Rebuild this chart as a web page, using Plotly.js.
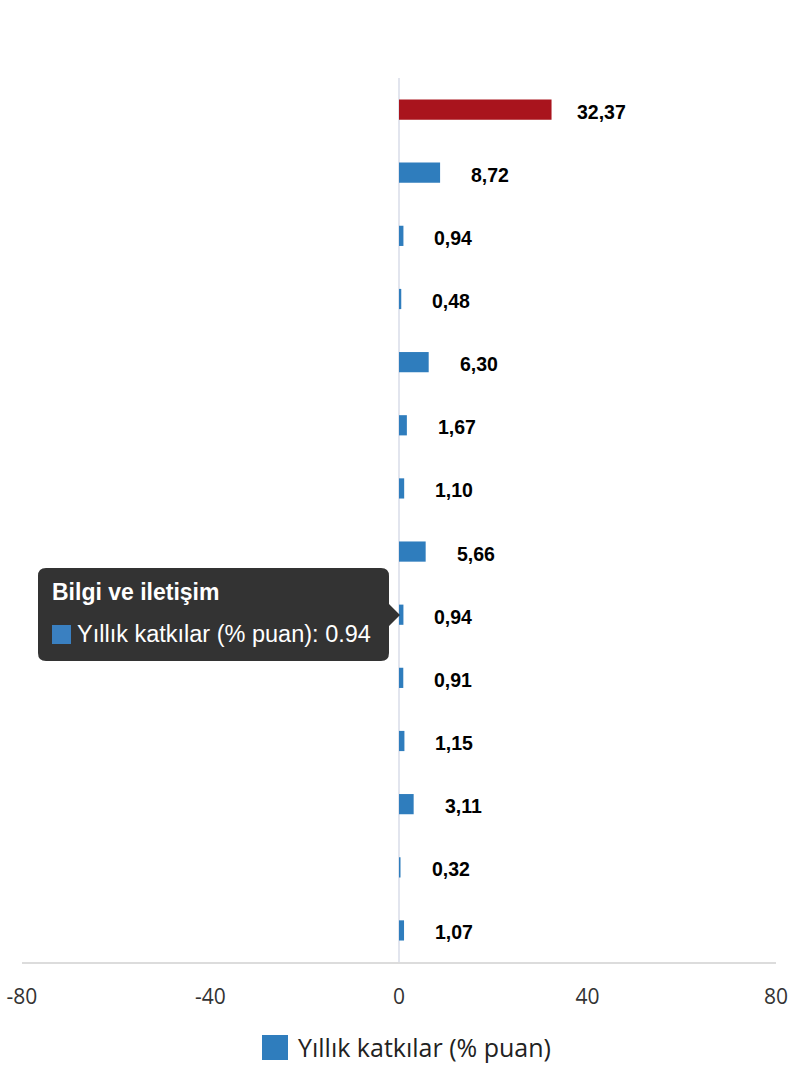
<!DOCTYPE html>
<html>
<head>
<meta charset="utf-8">
<script src="https://cdn.plot.ly/plotly-3.0.1.min.js"></script>
<style>
html,body{margin:0;padding:0;background:#fff;}
#chart{width:794px;height:1080px;}
</style>
</head>
<body>
<div id="chart"></div>
<script>
// ---- data ----
const categories = [
  "Gayrisafi yurt içi hasıla",
  "Sanayi",
  "Tarım, ormancılık ve balıkçılık",
  "İnşaat",
  "Ticaret, ulaştırma, konaklama ve yiyecek hizmeti",
  "Gayrimenkul faaliyetleri",
  "Finans ve sigorta faaliyetleri",
  "Kamu yönetimi, eğitim, sağlık",
  "Bilgi ve iletişim",
  "Mesleki, idari ve destek hizmet faaliyetleri",
  "Diğer hizmet faaliyetleri",
  "Vergi - sübvansiyon",
  "Madencilik ve taş ocakçılığı",
  "Elektrik, gaz, buhar ve su"
];
const values = [32.37, 8.72, 0.94, 0.48, 6.30, 1.67, 1.10, 5.66, 0.94, 0.91, 1.15, 3.11, 0.32, 1.07];
const seriesName = "Yıllık katkılar (% puan)";
const xTicks = [-80, -40, 0, 40, 80];
const hoveredIndex = 8;

// ---- styles ----
const BLUE = "#2f7dbd";
const RED = "#a9141d";
const W = 794, H = 1080;
const M = {l: 22, r: 18, t: 78, b: 118};
const PW = W - M.l - M.r, PH = H - M.t - M.b;
const px = x => (x - M.l) / PW;
const py = y => (H - M.b - y) / PH;

const colors = values.map((v, i) => i === 0 ? RED : BLUE);

const trace = {
  type: "bar",
  orientation: "h",
  y: categories,
  x: values,
  name: seriesName,
  marker: {color: colors},
  hoverinfo: "none",
  showlegend: false
};

const labelAnns = values.map((v, i) => ({
  x: v, y: categories[i], xref: "x", yref: "y",
  text: v.toFixed(2).replace(".", ","),
  showarrow: false, xanchor: "center", xshift: 50, yshift: -2,
  font: {family: "Liberation Sans, Arial, sans-serif", size: 19.5, color: "#000", weight: "bold"}
}));

const hv = values[hoveredIndex];
const tipAnns = [
  {x: px(50), y: py(592), xref: "paper", yref: "paper", xanchor: "left", yanchor: "middle",
   text: "<b>" + categories[hoveredIndex] + "</b>", showarrow: false,
   font: {family: "Liberation Sans, Arial, sans-serif", size: 23, color: "#fff"}},
  {x: px(75), y: py(634), xref: "paper", yref: "paper", xanchor: "left", yanchor: "middle",
   text: seriesName + ": " + hv.toFixed(2), showarrow: false,
   font: {family: "Liberation Sans, Arial, sans-serif", size: 23.5, color: "#fff"}},
  {x: px(296), y: py(1047), xref: "paper", yref: "paper", xanchor: "left", yanchor: "middle",
   text: seriesName, showarrow: false,
   font: {family: "Open Sans, sans-serif", size: 25, color: "#222"}}
];

const tipPath = "M -354,47 L -19,47 Q -11,47 -11,39 L -11,11 L 0,0 L -11,-11 L -11,-38 Q -11,-46 -19,-46 " +
                "L -354,-46 Q -362,-46 -362,-38 L -362,39 Q -362,47 -354,47 Z";

const shapes = [
  {type: "path", xref: "paper", yref: "paper", xsizemode: "pixel", ysizemode: "pixel",
   xanchor: px(400), yanchor: py(615), path: tipPath,
   fillcolor: "#333333", line: {width: 0}},
  {type: "rect", xref: "paper", yref: "paper", x0: px(52), x1: px(71), y0: py(644), y1: py(625),
   fillcolor: "#3a80c1", line: {width: 0}},
  {type: "rect", xref: "paper", yref: "paper", x0: px(262), x1: px(288), y0: py(1060), y1: py(1035),
   fillcolor: BLUE, line: {width: 0}}
];

const layout = {
  width: W, height: H,
  margin: M,
  paper_bgcolor: "#fff", plot_bgcolor: "#fff",
  bargap: 0.68,
  showlegend: false,
  font: {family: "Open Sans, sans-serif"},
  xaxis: {
    range: [-80, 80], tickvals: xTicks, ticktext: xTicks.map(String),
    showgrid: false, zeroline: true, zerolinecolor: "#e2e5ee", zerolinewidth: 2,
    showline: true, linecolor: "#dcdcdc", linewidth: 2,
    ticks: "", ticklabelstandoff: 15,
    tickfont: {family: "Open Sans, sans-serif", size: 21, color: "#333"},
    fixedrange: true
  },
  yaxis: {
    autorange: "reversed", showticklabels: false, showgrid: false,
    zeroline: false, showline: false, ticks: "", fixedrange: true
  },
  annotations: labelAnns.concat(tipAnns),
  shapes: shapes
};

Plotly.newPlot("chart", [trace], layout, {displayModeBar: false, staticPlot: true});
</script>
</body>
</html>
